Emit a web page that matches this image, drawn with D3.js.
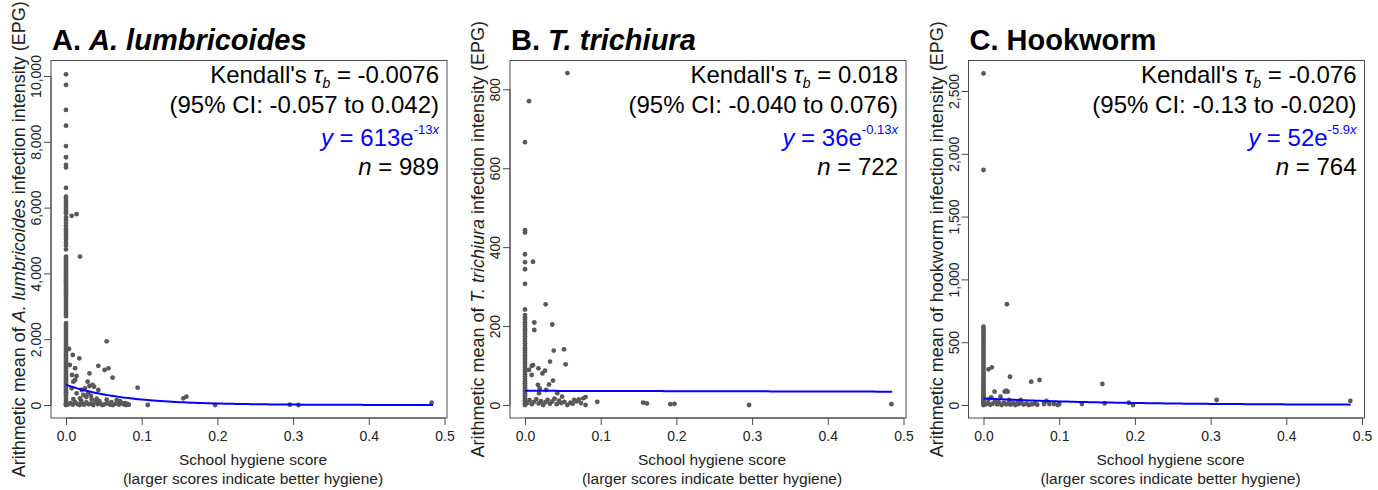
<!DOCTYPE html>
<html>
<head>
<meta charset="utf-8">
<script src="https://cdn.jsdelivr.net/npm/d3@7"></script>
<style>
body { margin: 0; background: #fff; }
svg { display: block; font-family: "Liberation Sans", Arial, sans-serif; }
</style>
</head>
<body>
<svg id="chart" width="1378" height="490"></svg>
<script>
// tick values
const xTicks = [0, 0.1, 0.2, 0.3, 0.4, 0.5];
const yTicksA = [0, 2000, 4000, 6000, 8000, 10000];
const yTicksB = [0, 200, 400, 600, 800];
const yTicksC = [0, 500, 1000, 1500, 2000, 2500];

// schools with hygiene score 0 (EPG values)
const columnA = [10050, 9730, 8970, 8490, 7870, 7530, 7300, 7220, 6600,
  6330, 6270, 6200, 6140, 6080, 6020, 5960, 5880, 5820, 5700, 5620,
  5530, 5440, 5340, 5260, 5180, 5110, 5020, 4930, 4850, 4730,
  4510, 4450, 4390, 4330, 4270, 4210, 4150, 4090, 4030, 3970, 3910, 3850, 3790, 3730,
  3670, 3610, 3550, 3490, 3430, 3370, 3310, 3250, 3190, 3130, 3070, 3010, 2950, 2890,
  2830, 2770, 2700,
  2490, 2430, 2370, 2310, 2250, 2190, 2130, 2070, 2010, 1950, 1890, 1830, 1770, 1710,
  1650, 1590, 1530, 1470, 1410, 1350, 1290, 1230, 1170, 1110, 1050, 990, 930, 870,
  810, 750, 690, 630, 570, 510, 450, 390, 330, 270, 210, 150, 90, 40, 10, 0];
const columnB = [0, 4, 8, 12, 16, 20, 25, 30, 35, 40, 45, 50, 55, 60, 66, 72, 78, 84, 90,
  96, 102, 108, 114, 120, 126, 132, 138, 144, 150, 156, 162, 168, 174, 180, 186, 192,
  198, 204, 210, 216, 222, 228, 242, 307, 344, 362, 382, 437, 443, 666];
const columnC = [0, 10, 20, 30, 40, 50, 62, 74, 86, 98, 110, 124, 138, 152, 166, 180, 196,
  212, 228, 244, 260, 278, 296, 314, 332, 350, 370, 390, 410, 430, 450, 470, 490, 510,
  530, 550, 570, 590, 610, 623, 1871, 2640];

// schools with score > 0: [score, EPG]
const scatterA = [[0.004, 1702], [0.009, 1520], [0.0176, 1420], [0.005, 1216], [0.012, 1120],
  [0.0427, 1190], [0.051, 1064], [0.056, 1115], [0.008, 912], [0.014, 882], [0.031, 960],
  [0.0616, 830], [0.0097, 709], [0.012, 760], [0.0286, 709], [0.031, 578], [0.035, 608],
  [0.037, 557], [0.025, 507], [0.0207, 456], [0.0427, 456], [0.0075, 507], [0.0946, 526],
  [0.014, 355], [0.023, 304], [0.029, 355], [0.0097, 180], [0.0185, 200], [0.034, 170],
  [0.0405, 190], [0.0537, 160], [0.067, 150], [0.155, 204], [0.159, 252], [0.0537, 1936],
  [0.0075, 5750], [0.014, 5800], [0.0185, 4510], [0.108, 0], [0.197, 0], [0.2955, 10],
  [0.307, 0], [0.483, 70],
  [0.003, 20], [0.006, 60], [0.009, 10], [0.012, 90], [0.015, 30], [0.018, 0], [0.021, 50],
  [0.024, 10], [0.027, 80], [0.030, 20], [0.033, 40], [0.036, 0], [0.039, 100], [0.042, 30],
  [0.045, 60], [0.048, 0], [0.051, 20], [0.055, 50], [0.058, 10], [0.062, 0], [0.066, 40],
  [0.070, 10], [0.073, 70], [0.076, 20], [0.079, 0], [0.081, 30], [0.083, 10], [0.020, 130],
  [0.027, 240], [0.033, 280], [0.044, 120], [0.060, 90], [0.071, 120], [0.078, 60]];
const scatterB = [[0.056, 841], [0.0053, 770], [0.0106, 363], [0.0273, 255], [0.0123, 209],
  [0.0123, 190], [0.036, 204], [0.038, 138], [0.0515, 141], [0.0537, 103], [0.033, 110],
  [0.0088, 99], [0.0106, 101], [0.0088, 76], [0.0177, 93], [0.023, 80], [0.0264, 87],
  [0.0053, 89], [0.037, 62], [0.0317, 52], [0.0194, 42], [0.028, 38], [0.0185, 30],
  [0.0427, 30], [0.08, 20], [0.0955, 8], [0.156, 6], [0.161, 4], [0.192, 2], [0.1975, 3],
  [0.296, 0], [0.484, 2], [0.065, 13], [0.071, 14], [0.08, 0], [0.049, 21], [0.017, 51],
  [0.003, 5], [0.006, 12], [0.009, 2], [0.012, 8], [0.015, 15], [0.018, 4], [0.021, 10],
  [0.024, 0], [0.027, 7], [0.030, 13], [0.033, 3], [0.036, 9], [0.039, 16], [0.042, 2],
  [0.045, 11], [0.048, 5], [0.052, 8], [0.056, 0], [0.060, 6], [0.063, 3], [0.068, 9],
  [0.074, 5], [0.077, 17]];
const scatterC = [[0.031, 802], [0.0066, 284], [0.011, 300], [0.035, 225], [0.063, 186],
  [0.074, 199], [0.157, 167], [0.308, 40], [0.4846, 32], [0.192, 18], [0.1975, 0], [0.16, 14],
  [0.130, 8], [0.100, 8], [0.098, 0], [0.093, 8], [0.087, 8], [0.080, 8], [0.083, 32],
  [0.049, 40], [0.045, 24], [0.0146, 106], [0.0225, 66], [0.028, 106], [0.030, 114],
  [0.032, 106], [0.0102, 61], [0.0066, 45], [0.034, 40], [0.020, 20],
  [0.003, 5], [0.006, 15], [0.009, 2], [0.012, 10], [0.015, 25], [0.018, 5], [0.021, 12],
  [0.024, 0], [0.027, 18], [0.030, 6], [0.033, 10], [0.036, 3], [0.039, 14], [0.042, 0],
  [0.046, 8], [0.050, 15], [0.053, 4], [0.057, 10], [0.060, 0], [0.064, 6], [0.068, 12],
  [0.071, 2]];

// fitted exponential models y = a * e^(b x)
const fitA = [613, -13];
const fitB = [36, -0.13];
const fitC = [52, -5.9];
const fitLabels = [["613", "-13"], ["36", "-0.13"], ["52", "-5.9"]];
const taus = ["-0.0076", "0.018", "-0.076"];
const cis = ["(95% CI: -0.057 to 0.042)", "(95% CI: -0.040 to 0.076)", "(95% CI: -0.13 to -0.020)"];
const ns = ["989", "722", "764"];
const maxScore = 0.485;

const svg = d3.select("#chart");
const boxW = 396, boxTop = 60.5, boxBottom = 418;
const fmt = d3.format(",");

const panels = [
  {left: 51, letter: "A. ", species: "A. lumbricoides", italic: true, yMax: 10000, yTop: 76,
   ticks: yTicksA, column: columnA, scatter: scatterA, fit: fitA},
  {left: 510, letter: "B. ", species: "T. trichiura", italic: true, yMax: 800, yTop: 89.3,
   ticks: yTicksB, column: columnB, scatter: scatterB, fit: fitB},
  {left: 968.5, letter: "C. Hookworm", species: "", italic: false, yMax: 2500, yTop: 91,
   ticks: yTicksC, column: columnC, scatter: scatterC, fit: fitC}
];

panels.forEach((p, i) => {
  const g = svg.append("g");
  const x = d3.scaleLinear().domain([0, 0.5]).range([p.left + 15, p.left + 393.5]);
  const y = d3.scaleLinear().domain([0, p.yMax]).range([405, p.yTop]);

  // points
  const pts = p.column.map(v => [0, v]).concat(p.scatter);
  g.selectAll("circle").data(pts).enter().append("circle")
    .attr("cx", d => x(d[0]))
    .attr("cy", d => y(d[1]))
    .attr("r", 2.4)
    .attr("fill", "#595959");

  // fitted curve
  const xs = d3.range(0, maxScore + 0.0001, 0.005);
  const line = d3.line().x(d => x(d)).y(d => y(p.fit[0] * Math.exp(p.fit[1] * d)));
  g.append("path").datum(xs)
    .attr("d", line)
    .attr("fill", "none")
    .attr("stroke", "#0000ff")
    .attr("stroke-width", 2);

  // box
  g.append("rect")
    .attr("x", p.left).attr("y", boxTop)
    .attr("width", boxW).attr("height", boxBottom - boxTop)
    .attr("fill", "none").attr("stroke", "#4a4a4a").attr("stroke-width", 1);

  // axes
  const xAxis = d3.axisBottom(x).tickValues(xTicks).tickFormat(d3.format(".1f")).tickSizeOuter(0).tickSize(7).tickPadding(6);
  const gx = g.append("g").attr("transform", `translate(0,${boxBottom})`).call(xAxis);
  gx.select(".domain").attr("d", `M${x(0)},0H${x(0.5)}`).attr("stroke", "#4a4a4a");
  gx.selectAll("line").attr("stroke", "#4a4a4a");
  gx.selectAll("text").attr("font-size", 14).attr("fill", "#222").attr("font-family", null);

  const yAxis = d3.axisLeft(y).tickValues(p.ticks).tickFormat(fmt).tickSizeOuter(0).tickSize(7);
  const gy = g.append("g").attr("transform", `translate(${p.left},0)`).call(yAxis);
  gy.select(".domain").attr("d", `M0,${y(0)}V${y(p.ticks[p.ticks.length - 1])}`).attr("stroke", "#4a4a4a");
  gy.selectAll("line").attr("stroke", "#4a4a4a");
  gy.selectAll("text")
    .attr("font-size", 14).attr("fill", "#222").attr("font-family", null)
    .attr("x", null).attr("dy", null)
    .attr("text-anchor", "middle")
    .attr("transform", "translate(-10,0) rotate(-90)");

  // title
  const title = g.append("text")
    .attr("x", p.left + 1).attr("y", 50)
    .attr("font-size", 29).attr("font-weight", "bold").attr("fill", "#000");
  title.append("tspan").text(p.letter);
  if (p.species) title.append("tspan").attr("font-style", "italic").text(p.species);

  // y label
  const yl = g.append("text")
    .attr("transform", `translate(${p.left - 26},${(boxTop + boxBottom) / 2}) rotate(-90)`)
    .attr("text-anchor", "middle").attr("font-size", 18).attr("fill", "#222");
  yl.append("tspan").text("Arithmetic mean of ");
  if (p.italic) {
    yl.append("tspan").attr("font-style", "italic").text(p.species);
    yl.append("tspan").text(" infection intensity (EPG)");
  } else {
    yl.append("tspan").text("hookworm infection intensity (EPG)");
  }

  // x label
  const cx = p.left + boxW / 2 + 4;
  g.append("text").attr("x", cx).attr("y", 465).attr("text-anchor", "middle")
    .attr("font-size", 15.5).attr("fill", "#222").text("School hygiene score");
  g.append("text").attr("x", cx).attr("y", 484).attr("text-anchor", "middle")
    .attr("font-size", 15.5).attr("fill", "#222").text("(larger scores indicate better hygiene)");

  // annotations
  const ax = p.left + boxW - 8;
  const t1 = g.append("text").attr("x", ax).attr("y", 83).attr("text-anchor", "end").attr("font-size", 24);
  t1.append("tspan").text("Kendall's ");
  t1.append("tspan").attr("font-style", "italic").text("τ");
  t1.append("tspan").attr("font-style", "italic").attr("font-size", 14).attr("dy", 5).text("b");
  t1.append("tspan").attr("dy", -5).text(" = " + taus[i]);

  g.append("text").attr("x", ax).attr("y", 113).attr("text-anchor", "end").attr("font-size", 24).text(cis[i]);

  const t3 = g.append("text").attr("x", ax).attr("y", 146).attr("text-anchor", "end")
    .attr("font-size", 24).attr("fill", "#0000ff");
  t3.append("tspan").attr("font-style", "italic").text("y");
  t3.append("tspan").text(" = " + fitLabels[i][0] + "e");
  t3.append("tspan").attr("font-size", 13).attr("dy", -12).text(fitLabels[i][1]);
  t3.append("tspan").attr("font-size", 13).attr("font-style", "italic").text("x");

  const t4 = g.append("text").attr("x", ax).attr("y", 175).attr("text-anchor", "end").attr("font-size", 24);
  t4.append("tspan").attr("font-style", "italic").text("n");
  t4.append("tspan").text(" = " + ns[i]);
});
</script>
</body>
</html>
